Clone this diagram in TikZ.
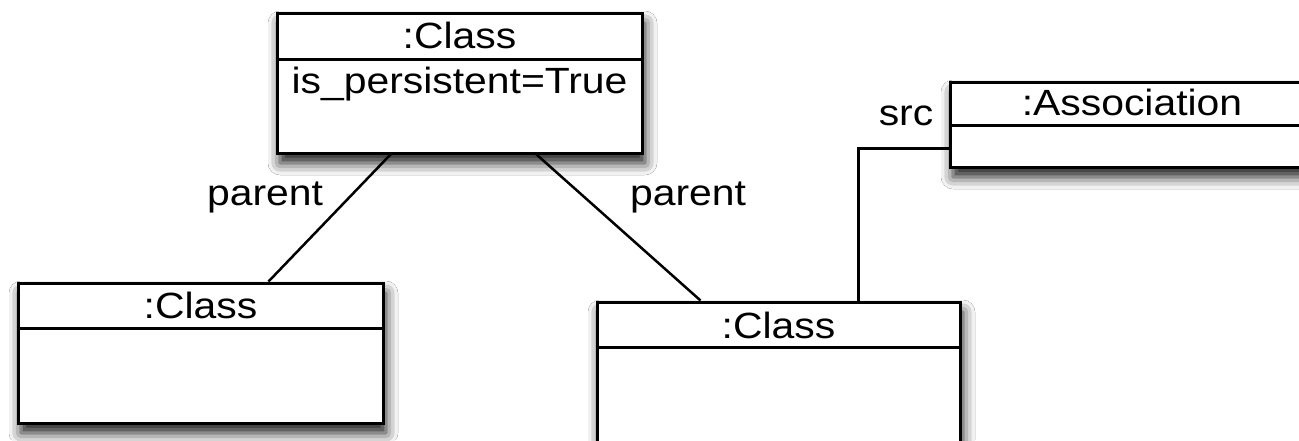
\documentclass[tikz,border=0pt]{standalone}
\usepackage{fontspec}
\setmainfont[FakeStretch=1.12]{Liberation Sans}
\usetikzlibrary{shadows.blur}
\tikzset{
  umlbox/.style={draw, line width=3pt, fill=white, rectangle, inner sep=0pt,
    blur shadow={shadow xshift=3pt, shadow yshift=-10pt, shadow blur radius=12pt, shadow opacity=90}},
  divider/.style={line width=3pt},
  conn/.style={line width=2.5pt},
  lbl/.style={anchor=base, inner sep=0pt, font=\fontsize{36.5}{44}\selectfont}
}
\begin{document}
\begin{tikzpicture}[x=1pt, y=-1pt]
  \fill[white] (0,0) rectangle (1299,440);
  \useasboundingbox (0,0) rectangle (1299,440);

  % object boxes
  \node[umlbox, minimum width=365pt, minimum height=140pt] (top) at (459.5,83) {};
  \node[umlbox, minimum width=365pt, minimum height=140pt] (left) at (200.5,353) {};
  \node[umlbox, minimum width=363pt, minimum height=140pt] (right) at (778.5,372) {};
  \node[umlbox, minimum width=364pt, minimum height=85pt] (assoc) at (1132,124.5) {};

  % compartment dividers
  \draw[divider] ([yshift=-48pt]top.north west) -- ([yshift=-48pt]top.north east);
  \draw[divider] ([yshift=-47pt]left.north west) -- ([yshift=-47pt]left.north east);
  \draw[divider] ([yshift=-47pt]right.north west) -- ([yshift=-47pt]right.north east);
  \draw[divider] ([yshift=-45pt]assoc.north west) -- ([yshift=-45pt]assoc.north east);

  % names and attributes
  \node[lbl] (topname) at ([yshift=-37pt]top.north) {:Class};
  \node[lbl] (topattr) at ([yshift=-82pt]top.north) {is\_persistent=True};
  \node[lbl] (leftname) at ([yshift=-37pt]left.north) {:Class};
  \node[lbl] (rightname) at ([yshift=-38pt]right.north) {:Class};
  \node[lbl] (assocname) at ([yshift=-35pt]assoc.north) {:Association};

  % links
  \draw[conn] ([xshift=115pt]top.south west) -- ([xshift=252pt]left.north west);
  \draw[conn] ([xshift=261pt]top.south west) -- ([xshift=105pt]right.north west);
  \draw[conn] ([yshift=-68pt]assoc.north west) -| ([xshift=263pt]right.north west);

  % role names
  \node[lbl] (parentl) at (265,205) {parent};
  \node[lbl] (parentr) at (688,205) {parent};
  \node[lbl] (src) at (906,125) {src};
\end{tikzpicture}
\end{document}
